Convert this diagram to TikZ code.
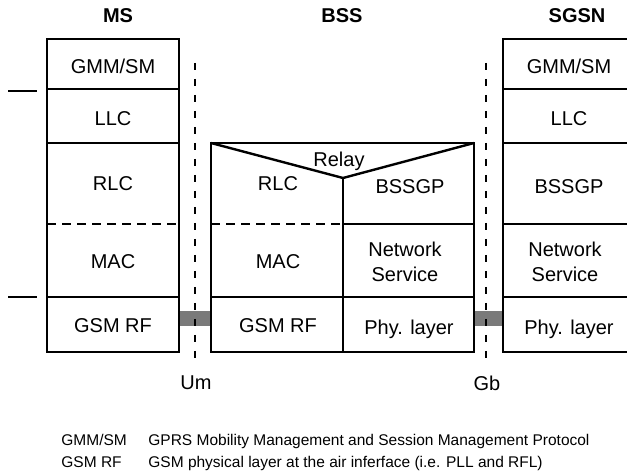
\documentclass[tikz,border=0pt]{standalone}
\usepackage{fontspec}
\setmainfont{Liberation Sans}
\usetikzlibrary{positioning,calc}
\definecolor{linkgrey}{HTML}{7A7A7A}
\tikzset{
  % stacks
  fr/.style={draw=black,line width=1.2pt},
  dv/.style={draw=black,line width=1.2pt,dash pattern=on 4.5pt off 3pt},
  ifc/.style={draw=black,line width=1.1pt,dash pattern=on 3.4pt off 4.6pt},
  lnk/.style={fill=linkgrey},
  % texts
  ly/.style={font=\fontsize{10}{12.5}\selectfont,align=center,inner sep=0pt},
  hd/.style={font=\fontsize{10}{12}\selectfont\bfseries,inner sep=0pt},
  lg/.style={font=\fontsize{7.75}{9}\selectfont,anchor=base west,inner sep=0pt},
}
\begin{document}
\begin{tikzpicture}[x=0.5pt,y=-0.5pt]
  \useasboundingbox (0,0) rectangle (627,475);
  \node[hd] (ms) at (118,16) {MS};
  \node[hd] (bss) at (342,16) {BSS};
  \node[hd] (sgsn) at (577,16) {SGSN};
  % MS
  \draw[fr] (47,39) rectangle (179,352);
  \draw[fr] (47,89) -- (179,89) (47,143) -- (179,143) (47,297) -- (179,297);
  \draw[dv] (47,224) -- (179,224);
  \draw[fr] (8,91) -- (37,91) (8,297) -- (37,297);
  \node[ly] (msgmm) at (113,66) {GMM/SM};
  \node[ly] (msllc) at (113,119) {LLC};
  \node[ly] (msrlc) at (113,184) {RLC};
  \node[ly] (msmac) at (113,262) {MAC};
  \node[ly] (msrf) at (113,326) {GSM RF};
  % BSS
  \draw[fr] (211,143) rectangle (474,352);
  \draw[fr] (211,143) -- (343,178) -- (474,143);
  \draw[fr] (343,178) -- (343,352);
  \draw[fr] (211,297) -- (474,297) (343,224) -- (474,224);
  \draw[dv] (211,224) -- (343,224);
  \node[ly] (relay) at (339,161) {Relay};
  \node[ly] (bssrlc) at (278,184) {RLC};
  \node[ly] (bssmac) at (278,262) {MAC};
  \node[ly] (bssrf) at (278,326) {GSM RF};
  \node[ly] (bssgp) at (410,187) {BSSGP};
  \node[ly] (bssns) at (405,262) {Network\\Service};
  \node[ly] (bssphy) at (409,329) {Phy. layer};
  % SGSN
  \draw[fr] (503,39) rectangle (640,352);
  \draw[fr] (503,89) -- (640,89) (503,143) -- (640,143)
                 (503,224) -- (640,224) (503,297) -- (640,297);
  \node[ly] (sggmm) at (569,66) {GMM/SM};
  \node[ly] (sgllc) at (569,119) {LLC};
  \node[ly] (sggp) at (569,187) {BSSGP};
  \node[ly] (sgns) at (565,262) {Network\\Service};
  \node[ly] (sgphy) at (569,329) {Phy. layer};
  % interfaces
  \fill[lnk] (180,311) rectangle (210,326);
  \fill[lnk] (475,311) rectangle (502,326);
  \coordinate (umtop) at (195,63);
  \coordinate (umbot) at (195,363);
  \coordinate (gbtop) at (486,63);
  \coordinate (gbbot) at (486,363);
  \draw[ifc] (umtop) -- (umbot);
  \draw[ifc] (gbtop) -- (gbbot);
  \node[ly] (um) at (196,383) {Um};
  \node[ly] (gb) at (487,383) {Gb};
  % legend
  \node[lg] (k1) at (61,446) {GMM/SM};
  \node[lg] (v1) at (148,446) {GPRS Mobility Management and Session Management Protocol};
  \node[lg] (k2) at (61,468) {GSM RF};
  \node[lg] (v2) at (148,468) {GSM physical layer at the air inferface (i.e. PLL and RFL)};
\end{tikzpicture}
\end{document}
